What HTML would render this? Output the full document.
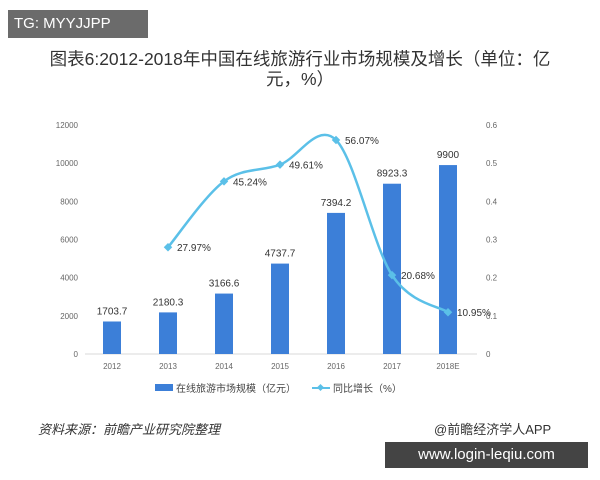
<!DOCTYPE html>
<html><head><meta charset="utf-8"><style>
body{margin:0;width:600px;height:480px;background:#fff;overflow:hidden;position:relative;font-family:"Liberation Sans","Noto Sans CJK SC",sans-serif}
.tg{position:absolute;left:8px;top:10px;width:140px;height:28px;background:#6b6b6b;color:#fff;font-size:15px;line-height:28px;padding-left:6px;box-sizing:border-box}
.title{position:absolute;left:0px;width:600px;top:49px;text-align:center;font-size:17.5px;color:#333;line-height:20px}
.src{position:absolute;left:38px;top:419px;font-size:13px;color:#333;font-style:italic}
.app{position:absolute;left:434px;top:419px;font-size:13px;color:#333}
.wm{position:absolute;left:385px;top:442px;width:203px;height:26px;background:#444;color:#fff;font-size:15px;line-height:26px;text-align:center}
</style></head><body>
<div class="tg">TG: MYYJJPP</div>
<div class="title">图表6:2012-2018年中国在线旅游行业市场规模及增长（单位：亿<br>元，%）</div>
<svg id="c" width="600" height="480" style="position:absolute;left:0;top:0"></svg>
<div class="src">资料来源：前瞻产业研究院整理</div>
<div class="app">@前瞻经济学人APP</div>
<div class="wm">www.login-leqiu.com</div>
<script>
const categories=["2012","2013","2014","2015","2016","2017","2018E"];
const sizes=[1703.7,2180.3,3166.6,4737.7,7394.2,8923.3,9900];
const growth=[null,0.2797,0.4524,0.4961,0.5607,0.2068,0.1095];
const growthLabels=["","27.97%","45.24%","49.61%","56.07%","20.68%","10.95%"];
const leftTicks=[0,2000,4000,6000,8000,10000,12000];
const rightTicks=[0,0.1,0.2,0.3,0.4,0.5,0.6];
const svg=document.getElementById('c');const NS='http://www.w3.org/2000/svg';
const yTop=125,bot=354,x0=112,step=56;
const yL=v=>bot-(v/12000)*(bot-yTop);
const yR=v=>bot-(v/0.6)*(bot-yTop);
const xC=i=>x0+i*step;
function mk(t,a,p){const e=document.createElementNS(NS,t);for(const k in a)e.setAttribute(k,a[k]);(p||svg).appendChild(e);return e;}
let ax=mk('line',{x1:85,x2:477,y1:bot,y2:bot,stroke:'#d9d9d9'});


leftTicks.forEach(v=>{const t=mk('text',{x:78,y:yL(v)+3,'text-anchor':'end','font-size':8,fill:'#666'});t.textContent=v;

});
rightTicks.forEach(v=>{const t=mk('text',{x:486,y:yR(v)+3,'font-size':8,fill:'#666'});t.textContent=v;

});
categories.forEach((c,i)=>{const t=mk('text',{x:xC(i),y:bot+15,'text-anchor':'middle','font-size':8,fill:'#666'});t.textContent=c;

});
sizes.forEach((v,i)=>{const b=mk('rect',{x:xC(i)-9,y:yL(v),width:18,height:bot-yL(v),fill:'#3c7fd8'});


const t=mk('text',{x:xC(i),y:yL(v)-7,'text-anchor':'middle','font-size':10,fill:'#333'});t.textContent=v;

});
const pts=[];growth.forEach((v,i)=>{if(v!==null)pts.push([xC(i),yR(v)]);});
let d='M'+pts[0][0]+','+pts[0][1];
for(let i=0;i<pts.length-1;i++){const p0=pts[Math.max(i-1,0)],p1=pts[i],p2=pts[i+1],p3=pts[Math.min(i+2,pts.length-1)];
d+=` C${p1[0]+(p2[0]-p0[0])/6},${p1[1]+(p2[1]-p0[1])/6} ${p2[0]-(p3[0]-p1[0])/6},${p2[1]-(p3[1]-p1[1])/6} ${p2[0]},${p2[1]}`;}
const ln=mk('path',{d:d,fill:'none',stroke:'#5bc0e8','stroke-width':2.5});


growth.forEach((v,i)=>{if(v===null)return;const m=mk('rect',{x:xC(i)-3,y:yR(v)-3,width:6,height:6,fill:'#5bc0e8',transform:`rotate(45 ${xC(i)} ${yR(v)})`});


const t=mk('text',{x:xC(i)+9,y:yR(v)+4,'font-size':10,fill:'#333'});t.textContent=growthLabels[i];

});
const g=mk('g',{});
mk('rect',{x:155,y:384,width:18,height:7,fill:'#3c7fd8'},g);
let lt=mk('text',{x:176,y:392,'font-size':10,fill:'#444'},g);lt.textContent='在线旅游市场规模（亿元）';
mk('line',{x1:312,x2:330,y1:388,y2:388,stroke:'#5bc0e8','stroke-width':2},g);
mk('rect',{x:318,y:385,width:5,height:5,fill:'#5bc0e8',transform:'rotate(45 320.5 387.5)'},g);
let lt2=mk('text',{x:333,y:392,'font-size':10,fill:'#444'},g);lt2.textContent='同比增长（%）';
</script>
</body></html>
